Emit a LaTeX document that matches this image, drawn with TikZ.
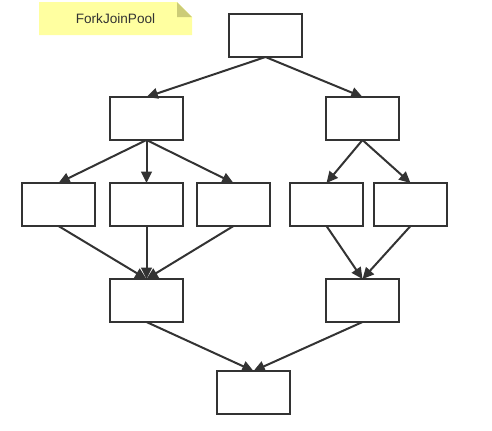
\documentclass[tikz,border=0pt]{standalone}
\usepackage{fontspec}
\setmainfont{Liberation Sans}
\usetikzlibrary{arrows.meta}
\definecolor{ln}{HTML}{333333}
\definecolor{notefill}{HTML}{FFFFA0}
\definecolor{notefold}{HTML}{CCCC77}
\begin{document}
\begin{tikzpicture}[x=0.75pt,y=-0.75pt,
  box/.style={draw=ln,fill=white,line width=1.5pt,minimum width=73*0.75pt,minimum height=43*0.75pt,inner sep=0pt,anchor=north west,rectangle},
  link/.style={draw=ln,line width=1.5pt,-{Triangle[length=8.5pt,width=8pt]},shorten >=0pt},
  every node/.style={outer sep=0pt}]
\useasboundingbox (0,0) rectangle (492,430);
% note
\fill[notefill] (39,2) -- (177,2) -- (192,17) -- (192,35) -- (39,35) -- cycle;
\fill[notefold] (177,2) -- (192,17) -- (177,17) -- cycle;
\node[text=ln,font=\fontsize{10.2}{12}\selectfont] (note) at (115.5,19) {ForkJoinPool};
% boxes
\node[box] (top) at (229,14) {};
\node[box] (l2) at (110,97) {};
\node[box] (r2) at (326,97) {};
\node[box] (a3) at (22,183) {};
\node[box] (b3) at (110,183) {};
\node[box] (c3) at (197,183) {};
\node[box] (d3) at (290,183) {};
\node[box] (e3) at (374,183) {};
\node[box] (l4) at (110,279) {};
\node[box] (r4) at (326,279) {};
\node[box] (bot) at (217,371) {};
% arrows
\draw[link] (top.south) -- (l2.north);
\draw[link] (top.south) -- (r2.north);
\draw[link] (l2.south) -- (a3.north);
\draw[link] (l2.south) -- (b3.north);
\draw[link] (l2.south) -- (c3.north);
\draw[link] (r2.south) -- (d3.north);
\draw[link] (r2.south) -- (e3.north);
\draw[link] (a3.south) -- (l4.north);
\draw[link] (b3.south) -- (l4.north);
\draw[link] (c3.south) -- (l4.north);
\draw[link] (d3.south) -- (r4.north);
\draw[link] (e3.south) -- (r4.north);
\draw[link] (l4.south) -- (bot.north);
\draw[link] (r4.south) -- (bot.north);
\end{tikzpicture}
\end{document}
